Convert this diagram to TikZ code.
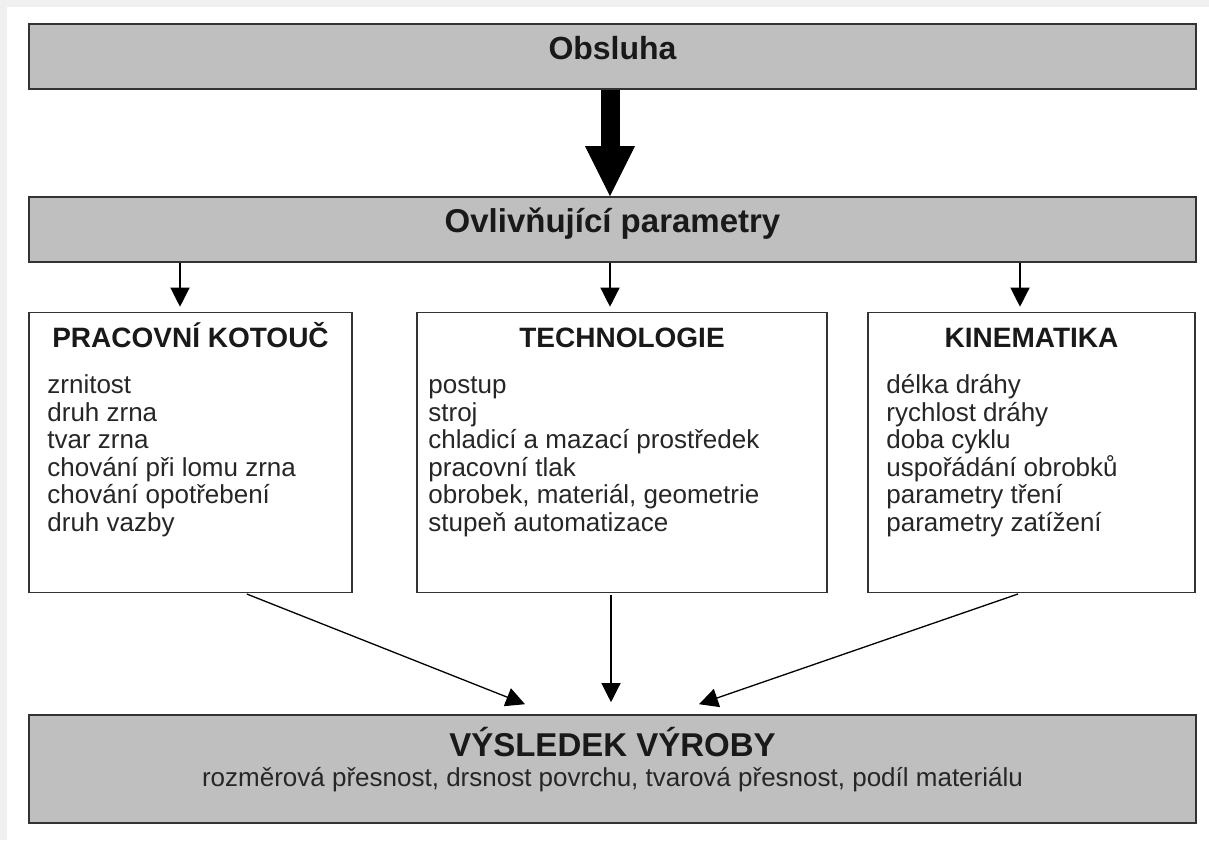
\documentclass[tikz,border=0pt]{standalone}
\usepackage{fontspec}
\setmainfont{Liberation Sans}
\usetikzlibrary{arrows.meta, matrix}

\tikzset{
  bar/.style = {
    draw = black!80,
    line width = 1.6pt,
    fill = black!25,
    minimum width = 1167pt,
    inner sep = 0pt,
  },
  groupbox/.style = {
    draw = black!80,
    line width = 1.6pt,
    fill = white,
    minimum height = 280pt,
    inner sep = 0pt,
  },
  bartitle/.style = {
    anchor = base, inner sep = 0pt, text = black!90,
    font = \fontsize{33}{36}\selectfont\bfseries,
  },
  heading/.style = {
    anchor = base, inner sep = 0pt, text = black!90,
    font = \fontsize{28}{32}\selectfont\bfseries,
  },
  entry/.style = {
    anchor = base west, inner sep = 0pt,
    text height = 19pt, text depth = 8.6pt, text = black!85,
    font = \fontsize{26}{30}\selectfont,
  },
  entrylist/.style = {
    matrix of nodes, anchor = north west,
    inner sep = 0pt, row sep = 0pt,
    nodes = {entry},
  },
  subline/.style = {
    anchor = base, inner sep = 0pt, text = black!85,
    font = \fontsize{26}{30}\selectfont,
  },
  link/.style = {-{Triangle[length = 19pt, width = 19pt]}, line width = 1.3pt},
  feed/.style = {-{Triangle[length = 50pt, width = 50pt, line width = 0pt]},
    line width = 19pt},
}

\begin{document}
\begin{tikzpicture}[x = 1pt, y = -1pt]
  \useasboundingbox (0, 0) rectangle (1209, 840);
  \fill [black!6] (0, 0) rectangle (1209, 840);
  \fill [white] (7, 7) rectangle (1209, 840);

  % operator and parameters
  \node [bar, minimum height = 65pt] (obsluha) at (612.5, 56.5) {};
  \node [bartitle, font = \fontsize{32}{36}\selectfont\bfseries]
    (obsluha text) at ([yshift = -3.5pt]obsluha.center) {Obsluha};
  \node [bar, minimum height = 65pt] (params) at (612.5, 229.5) {};
  \node [bartitle] (params text) at ([yshift = -2.5pt]params.center)
    {Ovlivňující parametry};
  \draw [feed] ([xshift = -2.5pt]obsluha.south) -- ([xshift = -2.5pt]params.north);

  % the three groups
  \node [groupbox, minimum width = 323pt] (kotouc) at (190.5, 452.5) {};
  \node [groupbox, minimum width = 410pt] (techno) at (622, 452.5) {};
  \node [groupbox, minimum width = 327pt] (kinem)  at (1031.5, 452.5) {};

  \node [heading] (kotouc head) at ([yshift = -35.5pt]kotouc.north) {PRACOVNÍ KOTOUČ};
  \node [heading] (techno head) at ([yshift = -35.5pt]techno.north) {TECHNOLOGIE};
  \node [heading] (kinem head)  at ([yshift = -35.5pt]kinem.north)  {KINEMATIKA};

  \matrix (kotouc list) [entrylist] at ([xshift = 19pt, yshift = -62.5pt]kotouc.north west) {
    zrnitost \\
    druh zrna \\
    tvar zrna \\
    chování při lomu zrna \\
    chování opotřebení \\
    druh vazby \\
  };
  \matrix (techno list) [entrylist] at ([xshift = 12pt, yshift = -62.5pt]techno.north west) {
    postup \\
    stroj \\
    chladicí a mazací prostředek \\
    pracovní tlak \\
    obrobek, materiál, geometrie \\
    stupeň automatizace \\
  };
  \matrix (kinem list) [entrylist] at ([xshift = 19pt, yshift = -62.5pt]kinem.north west) {
    délka dráhy \\
    rychlost dráhy \\
    doba cyklu \\
    uspořádání obrobků \\
    parametry tření \\
    parametry zatížení \\
  };

  \coordinate (kotouc in) at ([xshift = -10.5pt]kotouc.north);
  \coordinate (techno in) at ([xshift = -12pt]techno.north);
  \coordinate (kinem in)  at ([xshift = -11.5pt]kinem.north);
  \draw [link, shorten > = 5pt] (params.south -| kotouc in) -- (kotouc in);
  \draw [link, shorten > = 5pt] (params.south -| techno in) -- (techno in);
  \draw [link, shorten > = 5pt] (params.south -| kinem in) -- (kinem in);

  % result
  \node [bar, minimum height = 108pt] (vysledek) at (612.5, 769) {};
  \node [bartitle] (vysledek text) at ([yshift = 13pt]vysledek.center) {VÝSLEDEK VÝROBY};
  \node [subline] (vysledek sub) at ([yshift = -17pt]vysledek.center)
    {rozměrová přesnost, drsnost povrchu, tvarová přesnost, podíl materiálu};

  \coordinate (kotouc out) at ([xshift = 54.5pt]kotouc.south);
  \coordinate (techno out) at ([xshift = -11pt]techno.south);
  \coordinate (kinem out)  at ([xshift = -11.5pt]kinem.south);
  \coordinate (vysledek left)  at ([xshift = -87.5pt, yshift = 10pt]vysledek.north);
  \coordinate (vysledek mid)   at ([xshift = -1.5pt, yshift = 12pt]vysledek.north);
  \coordinate (vysledek right) at ([xshift = 86.5pt, yshift = 10pt]vysledek.north);
  \draw [link, shorten < = 2pt] (kotouc out) -- (vysledek left);
  \draw [link, shorten < = 2pt] (techno out) -- (vysledek mid);
  \draw [link, shorten < = 2pt] (kinem out) -- (vysledek right);
\end{tikzpicture}
\end{document}
